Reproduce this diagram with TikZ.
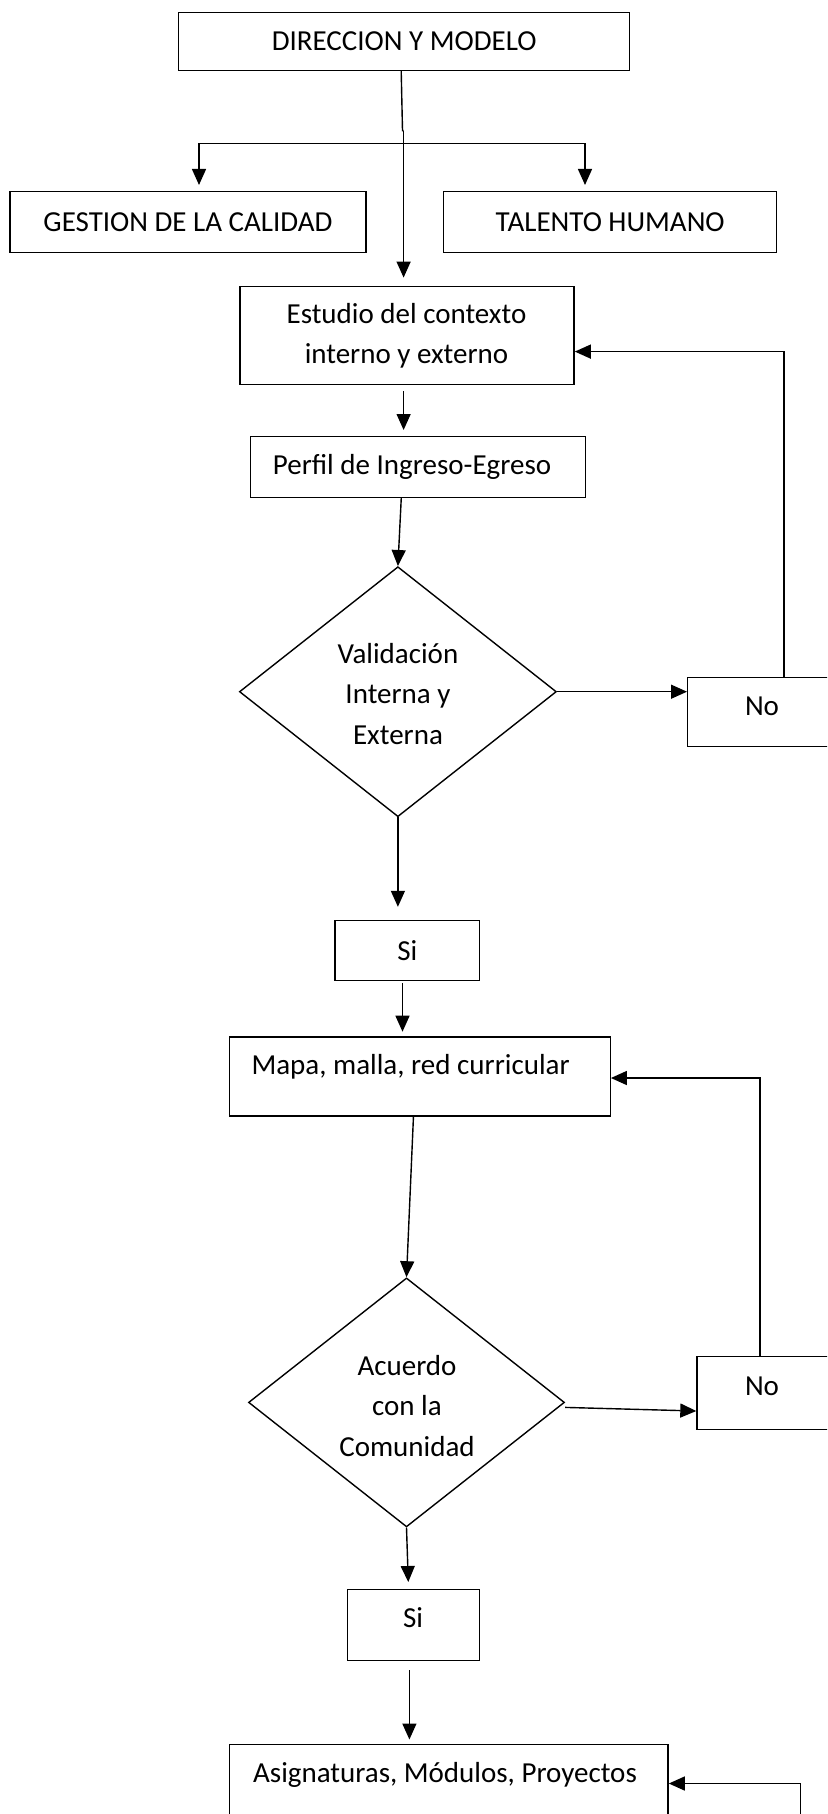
\documentclass[tikz,border=0pt]{standalone}
\usepackage{fontspec}
\setmainfont{Carlito}
\usetikzlibrary{shapes.geometric,arrows.meta}
\begin{document}
\begin{tikzpicture}[x=1pt,y=-1pt,
  every node/.style={font=\fontsize{29}{40.5}\selectfont, inner sep=0pt},
  box/.style={draw, line width=1.4pt, rectangle, anchor=north west},
  dia/.style={draw, line width=1.4pt, diamond, minimum width=317pt, minimum height=250pt, inner sep=0pt},
  ln/.style={line width=1.4pt},
  arr/.style={line width=1.4pt, -{Triangle[length=16pt,width=14pt]}}]
\useasboundingbox (0,0) rectangle (827,1814);
\clip (0,0) rectangle (827,1814);
\fill[white] (0,0) rectangle (827,1814);

% boxes
\node[box, minimum width=451pt, minimum height=58pt] (dir) at (178,11.6) {};
\node (dirt) at (dir.center) {DIRECCION Y MODELO};
\node[box, minimum width=356pt, minimum height=61pt] (ges) at (9.3,190.8) {};
\node (gest) at (ges.center) {GESTION DE LA CALIDAD};
\node[box, minimum width=333pt, minimum height=61pt] (tal) at (443,190.8) {};
\node (talt) at (tal.center) {TALENTO HUMANO};
\node[box, minimum width=334pt, minimum height=98pt] (est) at (239.4,285.7) {};
\node[align=center] (estt) at (406.5,336) {Estudio del contexto\\interno y externo};
\node[box, minimum width=335pt, minimum height=61pt] (per) at (249.8,436) {};
\node (pert) at (412,466.5) {Perfil de Ingreso-Egreso};
\node[dia] (val) at (397.9,691.7) {};
\node[align=center] (valt) at (398,694) {Validación\\Interna y\\Externa};
\node[box, minimum width=160pt, minimum height=69pt] (no1) at (687,676.6) {};
\node (no1t) at (762,706.7) {No};
\node[box, minimum width=144.5pt, minimum height=60pt] (si1) at (334.3,919.5) {};
\node (si1t) at (si1.center) {Si};
\node[box, minimum width=380.5pt, minimum height=79pt] (map) at (229,1036.3) {};
\node (mapt) at (410.6,1066.4) {Mapa, malla, red curricular};
\node[dia, minimum width=316pt, minimum height=249pt] (acu) at (406.5,1402.4) {};
\node[align=center] (acut) at (407,1406) {Acuerdo\\con la\\Comunidad};
\node[box, minimum width=150pt, minimum height=73pt] (no2) at (696.3,1355.5) {};
\node (no2t) at (762,1386.7) {No};
\node[box, minimum width=131.8pt, minimum height=70.7pt] (si2) at (347,1589) {};
\node (si2t) at (413,1618) {Si};
\node[box, minimum width=438.4pt, minimum height=90pt] (asi) at (229,1744) {};
\node (asit) at (445,1775) {Asignaturas, Módulos, Proyectos};

% connectors
\coordinate (br) at (403.6,143.4);
\coordinate (brL) at (199,143.4);
\coordinate (brR) at (585,143.4);
\coordinate (k) at (402.5,130.7);
\draw[ln] (dir.south) ++(-3,0) -- (k) -- (k -| br);
\draw[arr] (k -| br) -- (403.6,277.6);
\draw[ln] (brL) -- (brR);
\draw[arr] (brL) -- (199,185);
\draw[arr] (brR) -- (585,185);
\draw[arr] (403.6,391) -- (403.6,430);
\draw[arr] (401.3,497.3) -- (val.north);
\draw[arr] (val.east) -- (no1.west |- val.east);
\coordinate (f1) at (784,351.6);
\draw[arr] (no1.north -| f1) -- (f1) -- (est.east |- f1);
\draw[arr] (val.south) -- (val.south |- 0,906.8);
\draw[arr] (402.5,983) -- (402.5,1031.7);
\draw[arr] (map.south) ++(-6.5,0) -- (acu.north);
\draw[arr] (acu.east) ++(0,5) -- (no2.west |- 0,1411);
\coordinate (f2) at (760,1078);
\draw[arr] (no2.north -| f2) -- (f2) -- (map.east |- f2);
\draw[arr] (acu.south) -- (408.3,1582);
\draw[arr] (409.4,1670) -- (409.4,1739.5);
\coordinate (f3) at (800.4,1783.5);
\draw[arr] (800.4,1830) -- (f3) -- (asi.east |- f3);
\end{tikzpicture}
\end{document}
